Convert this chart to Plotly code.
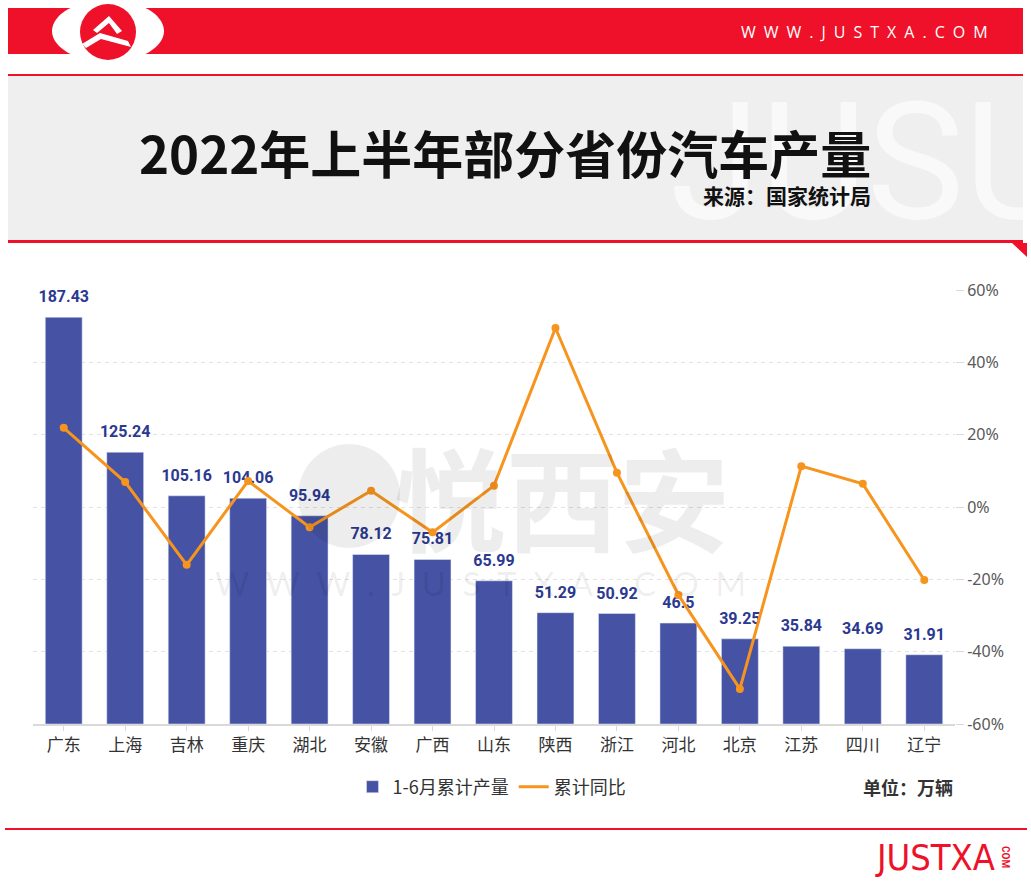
import plotly.graph_objects as go

W, H = 1031, 882

def X(p):
    return p / W

def Y(p):
    return 1 - p / H

# ---------------- data ----------------
provinces = ["广东", "上海", "吉林", "重庆", "湖北", "安徽", "广西", "山东",
             "陕西", "浙江", "河北", "北京", "江苏", "四川", "辽宁"]
production = [187.43, 125.24, 105.16, 104.06, 95.94, 78.12, 75.81, 65.99,
              51.29, 50.92, 46.5, 39.25, 35.84, 34.69, 31.91]
yoy_pct = [21.9, 6.9, -16.0, 7.2, -5.6, 4.5, -7.0, 5.9,
           49.5, 9.5, -24.3, -50.3, 11.3, 6.4, -20.2]
pct_ticks = [-60, -40, -20, 0, 20, 40, 60]
pct_tick_labels = [f"{t}%" for t in pct_ticks]

title_text = "2022年上半年部分省份汽车产量"
source_text = "来源：国家统计局"
unit_text = "单位：万辆"
bar_name = "1-6月累计产量"
line_name = "累计同比"

# ---------------- styles ----------------
RED = "#EE1129"
BAR = "#4652A3"
LABEL = "#2B3990"
ORANGE = "#F7941D"
CJK = "Noto Sans CJK SC"

fig = go.Figure()

fig.add_trace(go.Bar(
    x=provinces, y=production, name=bar_name, marker_color=BAR,
    yaxis="y", hoverinfo="x+y"))

fig.add_trace(go.Scatter(
    x=provinces, y=production, mode="markers+text",
    text=[f"{v:g}" for v in production], textposition="top center",
    marker=dict(size=16, opacity=0), cliponaxis=False,
    textfont=dict(family="Roboto", size=16, color=LABEL, weight="bold"),
    showlegend=False, hoverinfo="skip", yaxis="y"))

fig.add_trace(go.Scatter(
    x=provinces, y=yoy_pct, mode="lines+markers", yaxis="y2",
    line=dict(color=ORANGE, width=3), marker=dict(size=8, color=ORANGE),
    showlegend=False, name=line_name, cliponaxis=False))

fig.add_trace(go.Scatter(
    x=[None], y=[None], mode="lines", yaxis="y2", name=line_name,
    line=dict(color=ORANGE, width=3)))

shapes = []

def rect(x0, y0, x1, y1, color, layer="below"):
    shapes.append(dict(type="rect", xref="paper", yref="paper",
                       x0=X(x0), x1=X(x1), y0=Y(y1), y1=Y(y0),
                       fillcolor=color, line=dict(width=0), layer=layer))

def ellipse(x0, y0, x1, y1, color, layer="below"):
    shapes.append(dict(type="circle", xref="paper", yref="paper",
                       x0=X(x0), x1=X(x1), y0=Y(y1), y1=Y(y0),
                       fillcolor=color, line=dict(width=0), layer=layer))

def poly(pts, color, layer="below"):
    d = "M " + " L ".join(f"{X(a):.5f},{Y(b):.5f}" for a, b in pts) + " Z"
    shapes.append(dict(type="path", xref="paper", yref="paper", path=d,
                       fillcolor=color, line=dict(width=0), layer=layer))

# header
rect(8, 8, 1023, 54, RED)
ellipse(52, 0, 164, 62, "white")
ellipse(80, 4, 136, 60, RED)
poly([(93, 30), (109, 16), (122, 31), (117, 34), (109, 23), (97, 33)], "white")
poly([(82, 44), (100, 33), (128, 41), (131, 47), (101, 39), (86, 48)], "white")
rect(8, 74, 1023, 76, RED)
rect(8, 76, 1023, 241, "#EFEFEF")
rect(8, 240, 1023, 243, RED)
poly([(1012, 243), (1027, 243), (1027, 257)], RED)
# footer
rect(5, 828, 1027, 830, RED)
# watermark circle
ellipse(298, 444, 400, 548, "rgba(0,0,0,0.07)", layer="above")

annotations = []

def text(t, x, y, size, color, family=CJK, xanchor="center", **kw):
    annotations.append(dict(text=t, x=X(x), y=Y(y), xref="paper", yref="paper",
                            showarrow=False, xanchor=xanchor, yanchor="middle",
                            font=dict(size=size, color=color, family=family), **kw))

text("JUSU", 668, 162, 164, "rgba(255,255,255,0.6)", family="Roboto", xanchor="left")
text("<b>" + title_text + "</b>", 505, 152, 51, "#111111")
text("<b>" + source_text + "</b>", 873, 195, 21, "#111111", xanchor="right")
text("\u2002".join("WWW.JUSTXA.COM"), 990, 32, 16, "white", family="Open Sans", xanchor="right")
text("<b>悦西安</b>", 562, 495, 112, "rgba(0,0,0,0.07)")
text("\u2002".join("WWW.JUSTXA.COM"), 480, 583, 33, "rgba(0,0,0,0.08)", family="Lato")
text("<b>" + unit_text + "</b>", 955, 787, 18, "#333333", xanchor="right")
text("JUSTXA", 997, 857, 36, RED, family="Liberation Sans Narrow, DejaVu Sans Condensed", xanchor="right")
text("<b>COM</b>", 1006, 857, 10, RED, family="Roboto", textangle=90)

fig.update_layout(
    width=W, height=H, autosize=False,
    margin=dict(l=0, r=0, t=0, b=0, pad=0, autoexpand=False),
    paper_bgcolor="white", plot_bgcolor="rgba(0,0,0,0)",
    font=dict(family=CJK, color="#333333"),
    bargap=0.4,
    showlegend=True,
    legend=dict(orientation="h", x=X(492), xanchor="center", y=Y(787), yanchor="middle",
                font=dict(size=18, color="#333333", family=CJK),
                bgcolor="rgba(0,0,0,0)", traceorder="normal"),
    xaxis=dict(domain=[X(33), X(955)], type="category", range=[-0.5, 14.5],
               autorange=False, showline=True, automargin=False,
               linecolor="#D9D9D9", linewidth=1.5, ticks="outside", ticklen=5,
               tickcolor="#D9D9D9", tickfont=dict(size=17, color="#333333", family=CJK),
               showgrid=False, anchor="y", fixedrange=True),
    yaxis=dict(domain=[Y(724), Y(290)], range=[0, 200], visible=False, automargin=False,
               showgrid=False, zeroline=False, fixedrange=True),
    yaxis2=dict(overlaying="y", side="right", anchor="x", range=[-60, 60], automargin=False,
                tickvals=pct_ticks, ticktext=pct_tick_labels,
                showgrid=True, gridcolor="#E2E2E2", griddash="4px,4px", gridwidth=1,
                ticks="outside", ticklen=8, tickcolor="#D9D9D9",
                tickfont=dict(size=16, color="#595959", family="Noto Sans"),
                zeroline=False, showline=False, fixedrange=True),
    shapes=shapes, annotations=annotations,
)

fig.write_html("out.html", config={"displayModeBar": False},
               post_script="document.body.style.margin='0';")
